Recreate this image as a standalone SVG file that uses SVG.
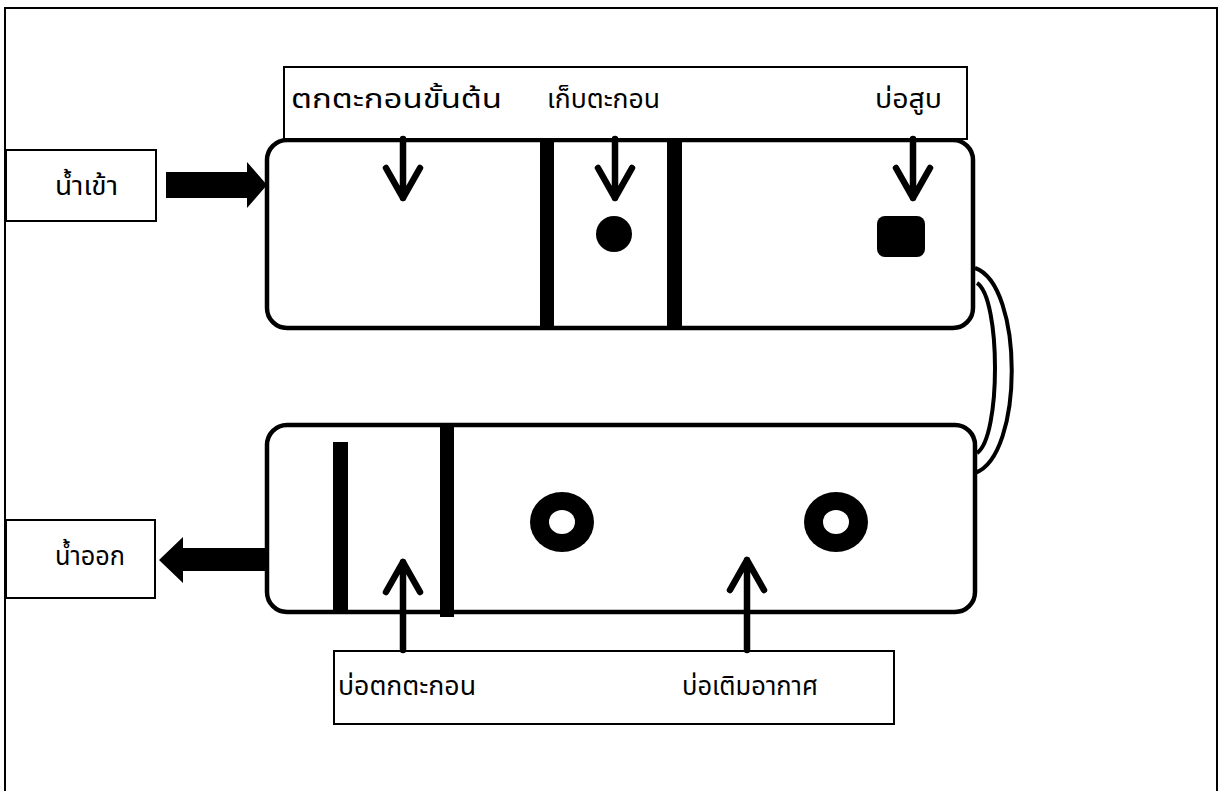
<svg xmlns="http://www.w3.org/2000/svg" width="1219" height="791" viewBox="0 0 1219 791">
<style>
.box{fill:#fff;stroke:#000;stroke-width:2}
.tank{fill:#fff;stroke:#000;stroke-width:4.5}
.wall{fill:#000}
.lbl{font-family:"Noto Sans Thai","Noto Sans","DejaVu Sans",sans-serif;font-size:26px;fill:#000}
.thin{fill:none;stroke:#000;stroke-width:6.5;stroke-linecap:round;stroke-linejoin:round}
.pipe{fill:none;stroke:#000;stroke-width:4}
</style>
<rect width="1219" height="791" fill="#fff"/>
<path d="M5 791 V8 H1217 V791" fill="none" stroke="#000" stroke-width="2"/>
<g id="tank-upper">
<rect class="tank" x="267" y="140" width="706" height="188" rx="20"/>
<rect class="wall" x="540" y="140" width="14" height="188"/>
<rect class="wall" x="667" y="140" width="15" height="188"/>
<circle cx="614" cy="234" r="18" fill="#000"/>
<rect x="877" y="216" width="48" height="41" rx="8" fill="#000"/>
</g>
<g id="label-top">
<rect class="box" x="284" y="67" width="683" height="72"/>
<text class="lbl" x="291" y="108" textLength="211" lengthAdjust="spacingAndGlyphs">ตกตะกอนขั้นต้น</text>
<text class="lbl" x="547" y="108" textLength="113" lengthAdjust="spacingAndGlyphs">เก็บตะกอน</text>
<text class="lbl" x="875" y="108" textLength="67" lengthAdjust="spacingAndGlyphs">บ่อสูบ</text>
</g>
<g id="tank-lower">
<rect class="tank" x="267" y="425" width="708" height="187" rx="20"/>
<rect class="wall" x="333" y="442" width="15" height="170"/>
<rect class="wall" x="440" y="425" width="14" height="192"/>
<ellipse cx="562" cy="522" rx="32" ry="30" fill="#000"/>
<ellipse cx="562" cy="522" rx="13" ry="12" fill="#fff"/>
<ellipse cx="836" cy="522" rx="32" ry="30" fill="#000"/>
<ellipse cx="836" cy="522" rx="13" ry="12" fill="#fff"/>
</g>
<g id="box-in">
<rect class="box" x="6" y="150" width="150" height="71"/>
<text class="lbl" x="55" y="195" textLength="63" lengthAdjust="spacingAndGlyphs">น้ำเข้า</text>
</g>
<g id="box-out">
<rect class="box" x="6" y="520" width="149" height="78"/>
<text class="lbl" x="55" y="565" textLength="70" lengthAdjust="spacingAndGlyphs">น้ำออก</text>
</g>
<g id="label-bottom">
<rect class="box" x="334" y="651" width="560" height="73"/>
<text class="lbl" x="338" y="695" textLength="138" lengthAdjust="spacingAndGlyphs">บ่อตกตะกอน</text>
<text class="lbl" x="682" y="695" textLength="136" lengthAdjust="spacingAndGlyphs">บ่อเติมอากาศ</text>
</g>
<g id="connectors">
<path d="M166 172 H247 V162 L267 185 L247 208 V198 H166 Z" fill="#000"/>
<path d="M267 548 H183 V537 L159 560 L183 583 V571 H267 Z" fill="#000"/>
<path class="thin" d="M403 139 V198 M386 168 L403 198 L420 168"/>
<path class="thin" d="M615 139 V198 M598 168 L615 198 L632 168"/>
<path class="thin" d="M913 139 V198 M896 168 L913 198 L930 168"/>
<path class="thin" d="M403 650 V562 M386 592 L403 562 L420 592"/>
<path class="thin" d="M747 650 V560 M730 590 L747 560 L764 590"/>
<path class="pipe" d="M975 268 C1024 285 1024 456 975 473"/>
<path class="pipe" d="M977 283 C1001 298 1001 438 977 453"/>
</g>
</svg>
